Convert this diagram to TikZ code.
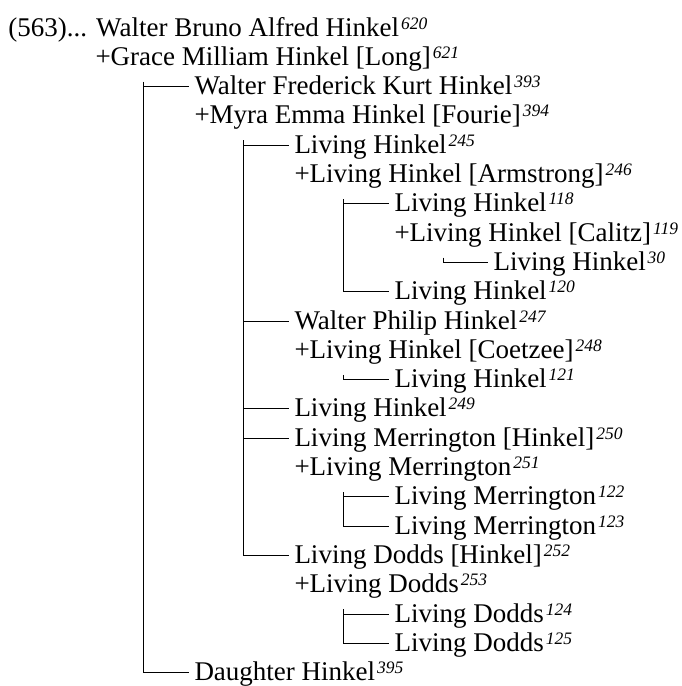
\documentclass[tikz,border=0pt]{standalone}
\usepackage{fontspec}
\setmainfont{Liberation Serif}
\newcommand\gen[1]{\kern2pt\raisebox{7pt}{\fontsize{17.5}{17.5}\selectfont\itshape #1}}

\begin{document}
\begin{tikzpicture}[x=1pt, y=1pt, line width=1pt,
    person/.style={anchor=base west, inner sep=0pt, text height=16pt, text depth=0pt,
                   font=\fontsize{27}{29}\selectfont}]
    \useasboundingbox (0,0) rectangle (682,-686);

    % 人物 (行ごと)
    \node[person] (wba) at (8,-36)    {(563)... Walter Bruno Alfred Hinkel\gen{620}};
    \node[person] (gmh) at (95,-65.3) {+Grace Milliam Hinkel [Long]\gen{621}};
    \node[person] (wfk) at (194,-94.6)  {Walter Frederick Kurt Hinkel\gen{393}};
    \node[person] (meh) at (194,-123.9) {+Myra Emma Hinkel [Fourie]\gen{394}};
    \node[person] (lh245) at (294,-153.2) {Living Hinkel\gen{245}};
    \node[person] (lh246) at (294,-182.5) {+Living Hinkel [Armstrong]\gen{246}};
    \node[person] (lh118) at (394,-211.8) {Living Hinkel\gen{118}};
    \node[person] (lh119) at (394,-241.1) {+Living Hinkel [Calitz]\gen{119}};
    \node[person] (lh30)  at (493,-270.4) {Living Hinkel\gen{30}};
    \node[person] (lh120) at (394,-299.7) {Living Hinkel\gen{120}};
    \node[person] (wph)   at (294,-329)   {Walter Philip Hinkel\gen{247}};
    \node[person] (lh248) at (294,-358.3) {+Living Hinkel [Coetzee]\gen{248}};
    \node[person] (lh121) at (394,-387.6) {Living Hinkel\gen{121}};
    \node[person] (lh249) at (294,-416.9) {Living Hinkel\gen{249}};
    \node[person] (lm250) at (294,-446.2) {Living Merrington [Hinkel]\gen{250}};
    \node[person] (lm251) at (294,-475.5) {+Living Merrington\gen{251}};
    \node[person] (lm122) at (394,-504.8) {Living Merrington\gen{122}};
    \node[person] (lm123) at (394,-534.1) {Living Merrington\gen{123}};
    \node[person] (ld252) at (294,-563.4) {Living Dodds [Hinkel]\gen{252}};
    \node[person] (ld253) at (294,-592.7) {+Living Dodds\gen{253}};
    \node[person] (ld124) at (394,-622)   {Living Dodds\gen{124}};
    \node[person] (ld125) at (394,-651.3) {Living Dodds\gen{125}};
    \node[person] (dh)    at (194,-680.6) {Daughter Hinkel\gen{395}};

    % 家族の縦線の起点 (配偶者の下)
    \coordinate (f1) at ([xshift=48pt, yshift=-16pt]gmh.south west);
    \coordinate (f2) at ([xshift=49pt, yshift=-16pt]meh.south west);
    \coordinate (f3) at ([xshift=49pt, yshift=-16pt]lh246.south west);
    \coordinate (f4) at ([xshift=49pt, yshift=-16pt]lh119.south west);
    \coordinate (f5) at ([xshift=49pt, yshift=-16pt]lh248.south west);
    \coordinate (f6) at ([xshift=49pt, yshift=-16pt]lm251.south west);
    \coordinate (f7) at ([xshift=49pt, yshift=-16pt]ld253.south west);

    % 子への線
    \foreach \c in {wfk, dh} \draw (f1) |- ([xshift=-5pt]\c.west);
    \foreach \c in {lh245, wph, lh249, lm250, ld252} \draw (f2) |- ([xshift=-5pt]\c.west);
    \foreach \c in {lh118, lh120} \draw (f3) |- ([xshift=-5pt]\c.west);
    \draw (f4) |- ([xshift=-5pt]lh30.west);
    \draw (f5) |- ([xshift=-5pt]lh121.west);
    \foreach \c in {lm122, lm123} \draw (f6) |- ([xshift=-5pt]\c.west);
    \foreach \c in {ld124, ld125} \draw (f7) |- ([xshift=-5pt]\c.west);
\end{tikzpicture}
\end{document}
